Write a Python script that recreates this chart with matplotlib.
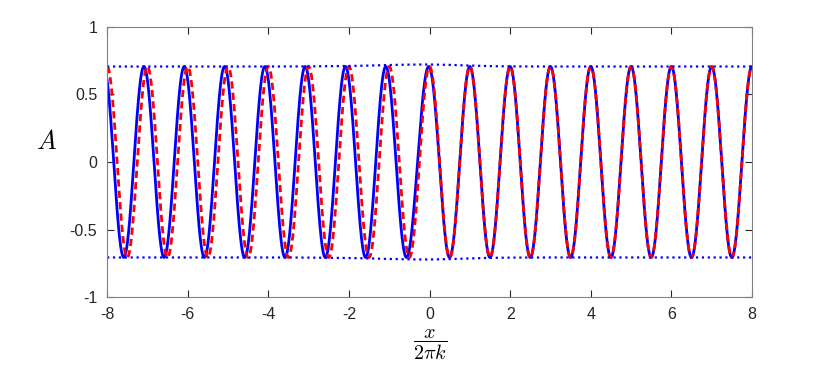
import numpy as np
import matplotlib
matplotlib.use('Agg')
import matplotlib.pyplot as plt

# values
amp = 0.707             # wave amplitude
period = 1.0            # one cycle per unit of x/(2 pi k)
lead_left = 0.085       # phase lead of the solid wave for x < 0 (in cycles)
lead_center = -0.25     # where the lead dies out
lead_width = 0.4

env_x = [-8, -4, -3, -2, -1.5, -1, -0.5, 0, 0.5, 1, 1.5, 2, 3, 8]
env_top = [0.707, 0.707, 0.708, 0.711, 0.714, 0.718, 0.721, 0.722, 0.719, 0.714, 0.710, 0.708, 0.707, 0.707]
env_bot = [-v for v in env_top]

xticks = [-8, -6, -4, -2, 0, 2, 4, 6, 8]
yticks = [-1, -0.5, 0, 0.5, 1]
yticklabels = ['-1', '-0.5', '0', '0.5', '1']

x = np.linspace(-8, 8, 4001)
lead = lead_left * 0.5 * (1 - np.tanh((x - lead_center) / lead_width))
exact = amp * np.cos(2 * np.pi * x / period)
approx = amp * np.cos(2 * np.pi * (x + lead) / period)

plt.rcParams['font.family'] = ['Liberation Sans', 'DejaVu Sans']
plt.rcParams['mathtext.fontset'] = 'cm'

fig = plt.figure(figsize=(8.3, 3.69), dpi=100)
ax = fig.add_axes([0.129, 0.195, 0.777, 0.732])

ax.plot(x, approx, '-', color='#0000ff', lw=2.0)
ax.plot(x, exact, color='#ff0000', lw=2.0, dashes=(2.6, 1.5))
ax.plot(env_x, env_top, ':', color='#0000ff', lw=1.6)
ax.plot(env_x, env_bot, ':', color='#0000ff', lw=1.6)

ax.set_xlim(-8, 8)
ax.set_ylim(-1, 1)
ax.set_xticks(xticks)
ax.set_xticklabels([str(t) for t in xticks])
ax.set_yticks(yticks)
ax.set_yticklabels(yticklabels)
ax.tick_params(direction='in', top=True, right=True, length=5, width=0.8,
               labelsize=11.5, colors='#262626', pad=7)
for s in ax.spines.values():
    s.set_color('#808080')
    s.set_linewidth(0.8)

ax.set_xlabel(r'$\dfrac{x}{2\pi k}$', fontsize=14.5, labelpad=4)
ax.set_ylabel(r'$A$', fontsize=19, rotation=0, va='center', ha='center')
ax.yaxis.set_label_coords(-0.094, 0.574)

fig.savefig('out.png', dpi=100)
